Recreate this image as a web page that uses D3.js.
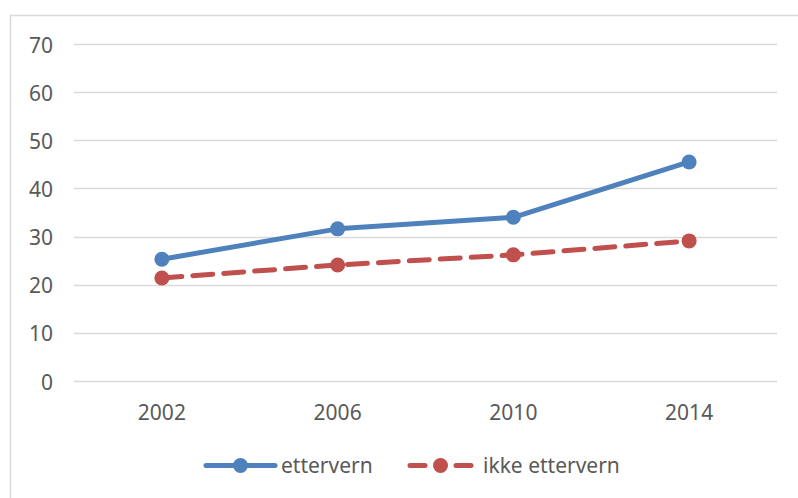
<!DOCTYPE html>
<html>
<head>
<meta charset="utf-8">
<script src="https://cdn.jsdelivr.net/npm/d3@7"></script>
<style>
  html, body { margin: 0; padding: 0; background: #fff; }
  svg text { font-family: "Noto Sans", "Open Sans", sans-serif; fill: #595959; }
</style>
</head>
<body>
<svg id="chart" width="798" height="498"></svg>
<script>
const years = ["2002", "2006", "2010", "2014"];
const ettervern = [25.3, 31.6, 34.0, 45.5];
const ikkeEttervern = [21.4, 24.1, 26.2, 29.1];
const yTicks = [0, 10, 20, 30, 40, 50, 60, 70];

const series = [
  { name: "ettervern", values: ettervern, color: "#4f81bd", dash: null, legendDash: null },
  { name: "ikke ettervern", values: ikkeEttervern, color: "#c0504d", dash: "20,11", legendDash: "15,31" }
];

const svg = d3.select("#chart");
const plot = { left: 74, right: 777, top: 44, bottom: 381 };
const fontSize = "21px";

// chart frame
svg.append("rect")
  .attr("x", 10.5).attr("y", 15.5)
  .attr("width", 800).attr("height", 500)
  .attr("fill", "none").attr("stroke", "#d9d9d9").attr("stroke-width", 1.5);

const x = d3.scaleBand().domain(years).range([plot.left, plot.right]);
const y = d3.scaleLinear().domain([0, 70]).range([plot.bottom, plot.top]);

// horizontal gridlines
svg.append("g").selectAll("line").data(yTicks).join("line")
  .attr("x1", plot.left).attr("x2", plot.right)
  .attr("y1", d => Math.round(y(d)) + 0.5).attr("y2", d => Math.round(y(d)) + 0.5)
  .attr("stroke", "#d9d9d9").attr("stroke-width", 1.5);

// y axis labels (baseline set directly)
const yAxis = d3.axisLeft(y).tickValues(yTicks).tickSize(0).tickPadding(0);
const gy = svg.append("g").attr("transform", `translate(53,0)`).call(yAxis);
gy.select(".domain").remove();
gy.selectAll("text").style("font-size", fontSize).attr("dy", null).attr("y", 8);

// x axis labels
const xAxis = d3.axisBottom(x).tickSize(0).tickPadding(0);
const gx = svg.append("g").attr("transform", `translate(0,${plot.bottom})`).call(xAxis);
gx.select(".domain").remove();
gx.selectAll("text").style("font-size", fontSize).attr("dy", null).attr("y", 39);

const line = d3.line()
  .x((d, i) => x(years[i]) + x.bandwidth() / 2)
  .y(d => y(d));

series.forEach(s => {
  svg.append("path")
    .datum(s.values)
    .attr("d", line)
    .attr("fill", "none")
    .attr("stroke", s.color)
    .attr("stroke-width", 5)
    .attr("stroke-linejoin", "round")
    .attr("stroke-linecap", "round")
    .attr("stroke-dasharray", s.dash);
  svg.append("g").selectAll("circle").data(s.values).join("circle")
    .attr("cx", (d, i) => x(years[i]) + x.bandwidth() / 2)
    .attr("cy", d => y(d))
    .attr("r", 7.5)
    .attr("fill", s.color);
});

// legend
const legendY = 465.5;
const legendItems = [
  { s: series[0], x0: 206, x1: 275, tx: 281 },
  { s: series[1], x0: 410, x1: 471, tx: 483 }
];
legendItems.forEach(l => {
  svg.append("line")
    .attr("x1", l.x0).attr("x2", l.x1).attr("y1", legendY).attr("y2", legendY)
    .attr("stroke", l.s.color).attr("stroke-width", 5)
    .attr("stroke-linecap", "round")
    .attr("stroke-dasharray", l.s.legendDash);
  svg.append("circle")
    .attr("cx", (l.x0 + l.x1) / 2).attr("cy", legendY).attr("r", 7.5)
    .attr("fill", l.s.color);
  svg.append("text")
    .attr("x", l.tx).attr("y", 473)
    .style("font-size", fontSize)
    .text(l.s.name);
});
</script>
</body>
</html>
